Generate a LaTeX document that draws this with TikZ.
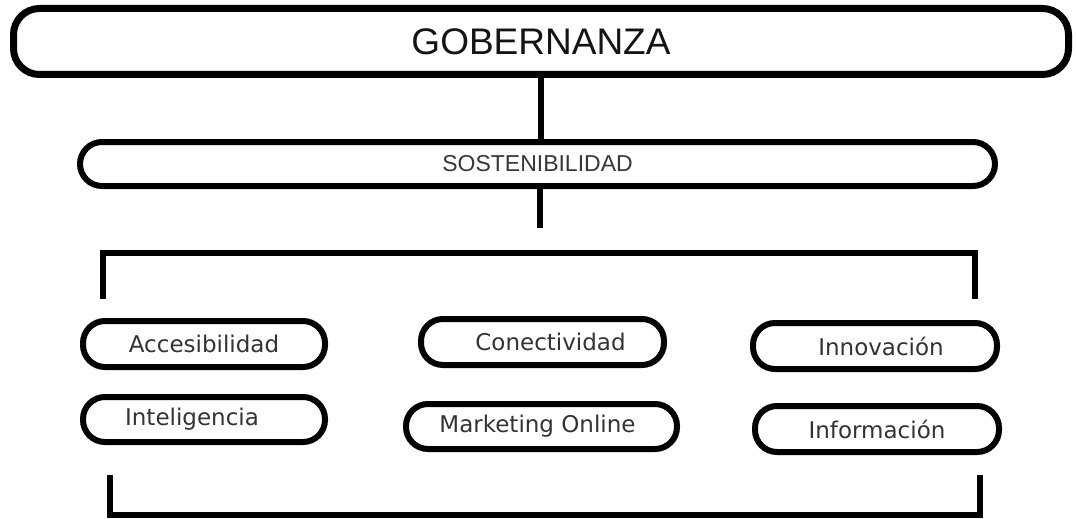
\documentclass[tikz,border=0pt]{standalone}
\usepackage{fontspec}
\setmainfont{DejaVu Sans}
\newfontfamily\headfont{Liberation Sans}
\begin{document}
\begin{tikzpicture}[x=1pt,y=-1pt,
  pill/.style={draw=black, line width=6pt, rounded corners=22pt, inner sep=0pt,
    fill=white, font=\fontsize{23}{27}\selectfont, text=black!80},
  conn/.style={draw=black, line width=6pt}]
\useasboundingbox (0,0) rectangle (1077,519);
% main boxes
\node[pill, line width=7pt, rounded corners=26pt, minimum width=1055pt, minimum height=66pt,
  font=\headfont\fontsize{37}{42}\selectfont, text=black!92] (gob) at (541,41.5) {GOBERNANZA};
\node[pill, minimum width=915pt, minimum height=44pt, font=\headfont\fontsize{23}{27}\selectfont,
  text=black!78] (sos) at (537.5,164) {SOSTENIBILIDAD};
% leaf boxes
\node[pill, minimum width=242pt, minimum height=46pt] (acc) at (204,344) {Accesibilidad};
\node[pill, minimum width=243pt, minimum height=46pt] (con) at (542.5,342) {\hspace*{16pt}Conectividad};
\node[pill, minimum width=244pt, minimum height=46pt] (inn) at (875,346) {\hspace*{12pt}Innovación};
\node[pill, minimum width=242pt, minimum height=45pt] (int) at (204,419.5) {Inteligencia\hspace*{24pt}};
\node[pill, minimum width=271pt, minimum height=45pt] (mkt) at (541.5,426.5) {Marketing Online\hspace*{8pt}};
\node[pill, minimum width=244pt, minimum height=46pt] (inf) at (877,429) {Información};
% connectors
\draw[conn] (gob.south) -- (gob.south |- sos.north);
\coordinate (s2) at (540,228);
\draw[conn] (sos.south -| s2) -- (s2);
\coordinate (tl) at (103,253);
\coordinate (tr) at (975,253);
\coordinate (tlb) at (103,299);
\coordinate (trb) at (975,299);
\draw[conn] (tlb) -- (tl) -- (tr) -- (trb);
\coordinate (bl) at (110,515);
\coordinate (br) at (980,515);
\coordinate (blt) at (110,475);
\coordinate (brt) at (980,475);
\draw[conn] (blt) -- (bl) -- (br) -- (brt);
\end{tikzpicture}
\end{document}
